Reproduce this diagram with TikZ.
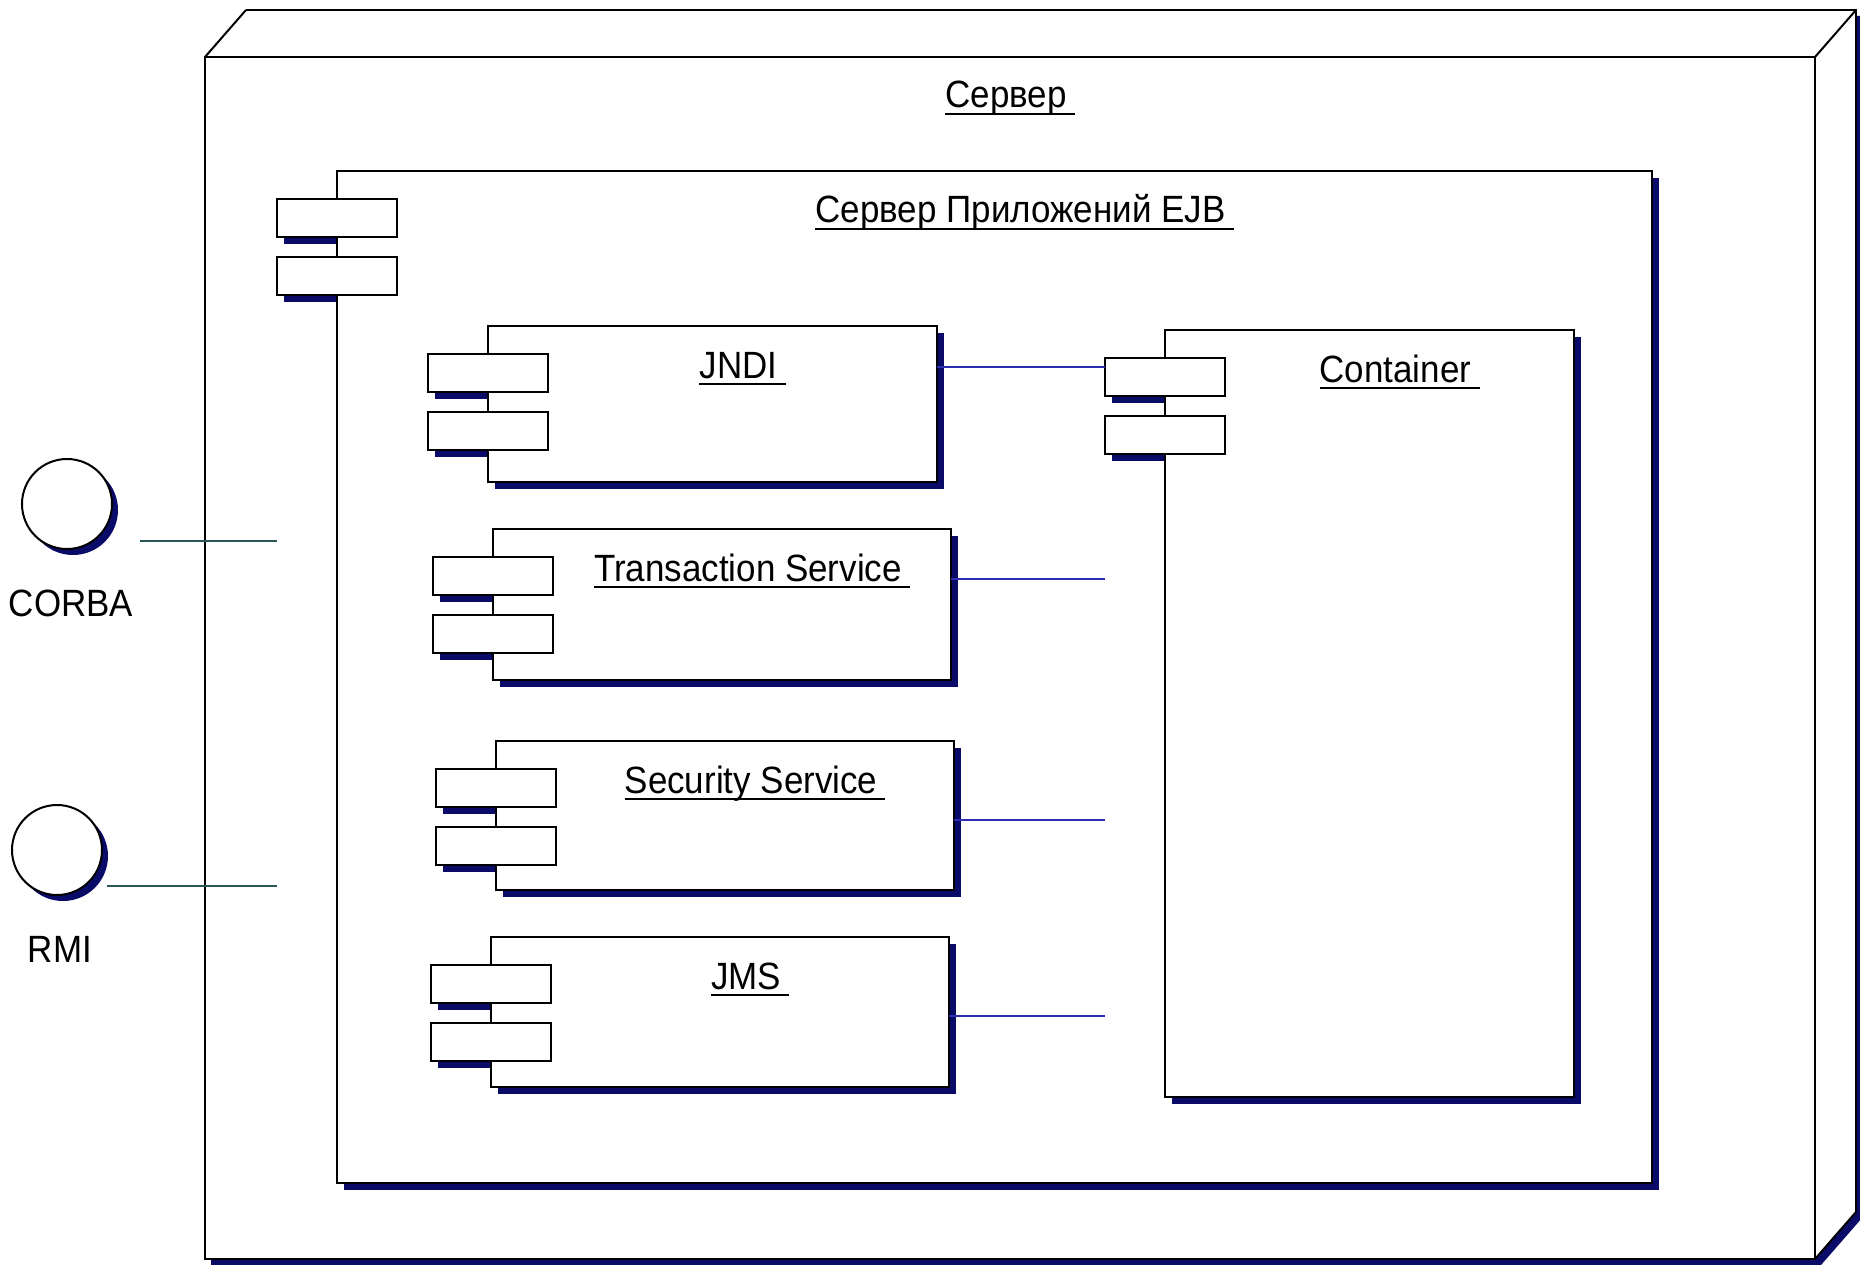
\documentclass[tikz,border=0pt]{standalone}
\usepackage{fontspec}
\setmainfont{Liberation Sans}[FakeStretch=0.92]
\usetikzlibrary{calc}

\definecolor{navyshadow}{RGB}{10,10,105}
\definecolor{linkblue}{RGB}{45,45,175}
\definecolor{ifaceline}{RGB}{40,85,85}

\tikzset{
  dropfill/.style={fill=navyshadow},
  part/.style={draw=black, line width=2.6pt, fill=white, rectangle,
    inner sep=0pt, outer sep=0pt, anchor=north west},
  tabbox/.style={part, minimum width=120pt, minimum height=38pt},
  ttl/.style={font=\fontsize{38}{44}\selectfont, inner sep=0pt, anchor=base},
  uline/.style={draw=black, line width=2.6pt},
  link/.style={draw=linkblue, line width=2pt},
  iface/.style={draw=ifaceline, line width=2pt},
  edge3d/.style={draw=black, line width=2.6pt, line join=miter},
  diag3d/.style={draw=black, line width=2pt},
  ifacering/.style={circle, draw=black, line width=2pt, fill=white,
    minimum size=90pt, inner sep=0pt, outer sep=0pt},
}

% UML component: name, left, top, right, bottom, title
\newcommand\umlpart[6]{%
  \pgfmathsetmacro\partW{#4-#2}%
  \pgfmathsetmacro\partH{#5-#3}%
  \pgfmathsetmacro\partX{(#2+60+#4)/2-4}%
  \fill[dropfill] ({#2+7},{#3+7}) rectangle ({#4+7},{#5+7});
  \fill[dropfill] ({#2-53},{#3+35}) rectangle ({#2+67},{#3+73});
  \fill[dropfill] ({#2-53},{#3+93}) rectangle ({#2+67},{#3+131});
  \node[part, minimum width=\partW pt, minimum height=\partH pt] (#1) at (#2,#3) {};
  \node[tabbox] (#1-t1) at ({#2-60},{#3+28}) {};
  \node[tabbox] (#1-t2) at ({#2-60},{#3+86}) {};
  \node[ttl] (#1-title) at (\partX,{#3+52}) {#6};
  \draw[uline] ([yshift=-6pt]#1-title.base west) -- ([xshift=8pt,yshift=-6pt]#1-title.base east);
}

\begin{document}
\begin{tikzpicture}[x=1pt,y=-1pt]
\useasboundingbox (0,0) rectangle (1860,1265);
\fill[white] (0,0) rectangle (1860,1265);

% server node (3D box)
\fill[dropfill] (211,63) -- (252,16) -- (1862,16) -- (1862,1218) -- (1821,1265) -- (211,1265) -- cycle;
\fill[white] (205,57) -- (246,10) -- (1856,10) -- (1856,1212) -- (1815,1259) -- (205,1259) -- cycle;
\node[part, minimum width=1610pt, minimum height=1202pt] (server) at (205,57) {};
\draw[edge3d] ([xshift=41pt,yshift=47pt]server.north west) -- ++(1610,0) -- ++(0,1202);
\draw[diag3d] (server.north west) -- ++(41,-47);
\draw[diag3d] (server.north east) -- ++(41,-47);
\draw[diag3d] (server.south east) -- ++(41,-47);
\node[ttl] (server-title) at (1006,108) {Сервер};
\draw[uline] ([yshift=-6pt]server-title.base west) -- ([xshift=8pt,yshift=-6pt]server-title.base east);

% EJB application server and its parts
\umlpart{ejb}{337}{171}{1652}{1183}{Сервер Приложений EJB}
\umlpart{jndi}{488}{326}{937}{482}{JNDI}
\umlpart{ts}{493}{529}{951}{680}{Transaction Service}
\umlpart{ss}{496}{741}{954}{890}{Security Service}
\umlpart{jms}{491}{937}{949}{1087}{JMS}
\umlpart{cont}{1165}{330}{1574}{1097}{Container}

% links from the services towards the container
\coordinate (jndi-end) at (cont-t1.west |- 0,367);
\coordinate (ts-end) at (cont-t1.west |- 0,579);
\coordinate (ss-end) at (cont-t1.west |- 0,820);
\coordinate (jms-end) at (cont-t1.west |- 0,1016);
\draw[link] (jndi.east |- jndi-end) -- (jndi-end);
\draw[link] (ts.east |- ts-end) -- (ts-end);
\draw[link] (ss.east |- ss-end) -- (ss-end);
\draw[link] (jms.east |- jms-end) -- (jms-end);

% interfaces
\fill[dropfill] (73,510) circle[radius=45pt];
\node[ifacering] (corba) at (67,504) {};
\node[ttl] (corba-label) at (71,616) {CORBA};
\fill[dropfill] (63,856) circle[radius=45pt];
\node[ifacering] (rmi) at (57,850) {};
\node[ttl] (rmi-label) at (60,962) {RMI};

\coordinate (corba-end) at (ejb-t1.west |- 0,541);
\coordinate (corba-start) at ([xshift=28pt]corba.east);
\draw[iface] (corba-start |- corba-end) -- (corba-end);
\coordinate (rmi-end) at (ejb-t1.west |- 0,886);
\coordinate (rmi-start) at ([xshift=5pt]rmi.east);
\draw[iface] (rmi-start |- rmi-end) -- (rmi-end);
\end{tikzpicture}
\end{document}
